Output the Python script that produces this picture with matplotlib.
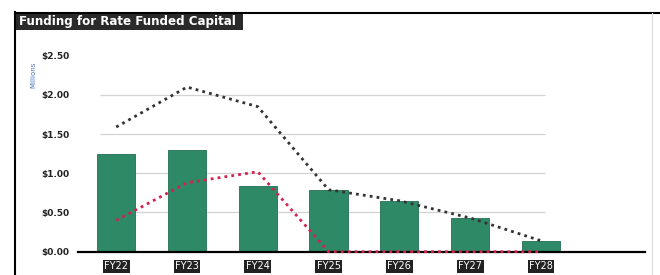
import matplotlib
matplotlib.use("Agg")
import matplotlib.pyplot as plt
from matplotlib.lines import Line2D
from matplotlib.patches import Rectangle

categories = ["FY22", "FY23", "FY24", "FY25", "FY26", "FY27", "FY28"]
bar_values = [1.24, 1.30, 0.84, 0.79, 0.65, 0.43, 0.14]
black_line = [1.59, 2.10, 1.85, 0.79, 0.65, 0.43, 0.14]
red_line = [0.40, 0.88, 1.02, 0.0, 0.0, 0.0, 0.0]
yticks = [0.0, 0.5, 1.0, 1.5, 2.0, 2.5]
ytick_labels = ["$0.00", "$0.50", "$1.00", "$1.50", "$2.00", "$2.50"]
title = "Funding for Rate Funded Capital"

W, H = 660, 275
fig = plt.figure(figsize=(6.6, 2.75), dpi=100)
fig.patch.set_facecolor("white")

def fx(px):
    return px / W

def fy(py):
    return 1 - py / H

ax = fig.add_axes([fx(78), fy(251.7), fx(645) - fx(78), fy(40) - fy(251.7)])
x = list(range(len(categories)))
ax.set_xlim(-0.54, 7.47)
ax.set_ylim(0, 2.70)

# gridlines
ax.hlines([0.5, 1.0, 1.5, 2.0], -0.23, 6.06, colors="#d2d2d2", linewidth=0.9, zorder=0)

ax.bar(x, bar_values, width=0.54, color="#2e8a66", edgecolor="#236e50", linewidth=0.6, zorder=2)
ax.axhline(0, color="black", linewidth=1.6, zorder=3, clip_on=False)
ax.plot(x, black_line, color="#333333", linestyle=(0, (1, 1.5)), linewidth=2.0, zorder=4,
        clip_on=False)
ax.plot(x, red_line, color="#d4204f", linestyle=(0, (1, 1.5)), linewidth=2.0, zorder=5,
        clip_on=False)

for s in ax.spines.values():
    s.set_visible(False)

ax.set_yticks(yticks)
ax.set_yticklabels(ytick_labels, fontsize=6.5, fontweight="bold", color="#222222")
ax.tick_params(axis="y", length=0, pad=6)
ax.set_xticks(x)
ax.set_xticklabels(categories, fontsize=7, color="white")
ax.tick_params(axis="x", length=0, pad=7)
for lab in ax.get_xticklabels():
    lab.set_bbox(dict(facecolor="#222222", edgecolor="none", pad=1.0))

# Millions label
fig.text(fx(33), fy(75), "Millions", rotation=90, fontsize=5, color="#4a78b8",
         ha="center", va="center")

# frame lines
fig.add_artist(Line2D([fx(15), fx(15)], [fy(12), 0], color="black", linewidth=1.5,
                      transform=fig.transFigure))
fig.add_artist(Line2D([fx(15), 1], [fy(12.5), fy(12.5)], color="black", linewidth=1.5,
                      transform=fig.transFigure))
fig.add_artist(Line2D([fx(652), fx(652)], [fy(13), 0], color="#dddddd", linewidth=0.8,
                      transform=fig.transFigure))

# title box
fig.add_artist(Rectangle((fx(15), fy(30)), fx(243) - fx(15), fy(12) - fy(30),
                         facecolor="#2a2a2a", edgecolor="none", transform=fig.transFigure))
fig.text(fx(19), fy(21.5), title, fontsize=8.6, fontweight="bold", color="white",
         ha="left", va="center")

fig.savefig("out.png", dpi=100, facecolor="white")
